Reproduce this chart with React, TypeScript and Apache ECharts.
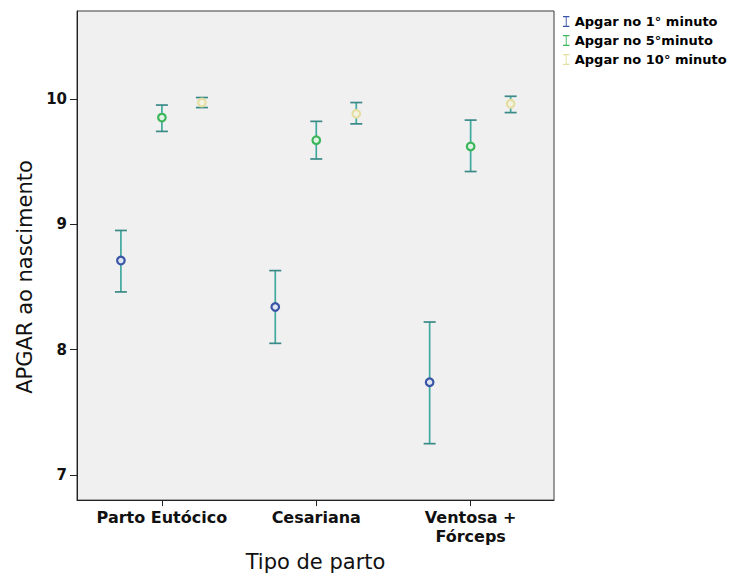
import React, { useEffect, useRef } from "react";
import * as echarts from "echarts";

// Delivery types (x categories)
const categories = ["Parto Eutócico", "Cesariana", "Ventosa +\nFórceps"];

// APGAR at 1 minute: mean and 95% CI bounds
const mean1 = [8.71, 8.34, 7.74];
const low1 = [8.46, 8.05, 7.25];
const high1 = [8.95, 8.63, 8.22];

// APGAR at 5 minutes
const mean5 = [9.85, 9.67, 9.62];
const low5 = [9.74, 9.52, 9.42];
const high5 = [9.95, 9.82, 9.83];

// APGAR at 10 minutes
const mean10 = [9.97, 9.88, 9.96];
const low10 = [9.93, 9.8, 9.89];
const high10 = [10.01, 9.97, 10.02];

const yTicks = [7, 8, 9, 10];
const seriesNames = ["Apgar no 1° minuto", "Apgar no 5°minuto", "Apgar no 10° minuto"];

const FONT = "DejaVu Sans";
const BAR_COLOR = "#40a89e";
const CAP_COLOR = "#3a8a87";
const ICON_PATH = "path://M0,0H7V1.4H4V10.6H7V12H0V10.6H3V1.4H0Z";

function buildSeries(
  name: string,
  color: string,
  fill: string,
  mean: number[],
  low: number[],
  high: number[],
  offsetPx: number
) {
  const data = categories.map((_, i) => [i + 1, mean[i], low[i], high[i]]);
  return {
    type: "custom",
    name,
    itemStyle: { color },
    encode: { x: 0, y: [1, 2, 3] },
    data,
    renderItem: (_params: any, api: any) => {
      const xv = api.value(0);
      const pm = api.coord([xv, api.value(1)]);
      const pl = api.coord([xv, api.value(2)]);
      const ph = api.coord([xv, api.value(3)]);
      const cx = pm[0] + offsetPx;
      const half = 6;
      return {
        type: "group",
        children: [
          {
            type: "line",
            shape: { x1: cx, y1: ph[1], x2: cx, y2: pl[1] },
            style: { stroke: BAR_COLOR, lineWidth: 1.7 },
          },
          {
            type: "line",
            shape: { x1: cx - half, y1: ph[1], x2: cx + half, y2: ph[1] },
            style: { stroke: CAP_COLOR, lineWidth: 1.7 },
          },
          {
            type: "line",
            shape: { x1: cx - half, y1: pl[1], x2: cx + half, y2: pl[1] },
            style: { stroke: CAP_COLOR, lineWidth: 1.7 },
          },
          {
            type: "circle",
            shape: { cx, cy: pm[1], r: 3.8 },
            style: { fill, stroke: color, lineWidth: 2.2 },
          },
        ],
      };
    },
  };
}

export default function App() {
  const ref = useRef<HTMLDivElement>(null);

  useEffect(() => {
    if (!ref.current) return;
    const chart = echarts.init(ref.current, null, { renderer: "svg" });
    chart.setOption({
      animation: false,
      backgroundColor: "#ffffff",
      grid: {
        left: 77,
        top: 11,
        right: 176,
        bottom: 75,
        show: true,
        backgroundColor: "#f0f0f0",
        borderColor: "#3a3a3a",
        borderWidth: 1,
      },
      legend: {
        orient: "vertical",
        left: 558,
        top: 10,
        itemWidth: 7,
        itemHeight: 11,
        itemGap: 6,
        icon: ICON_PATH,
        data: seriesNames,
        textStyle: { fontFamily: FONT, fontWeight: "bold", fontSize: 13, color: "#000" },
      },
      xAxis: {
        type: "value",
        min: 0.45,
        max: 3.54,
        splitLine: { show: false },
        axisLine: { show: true, lineStyle: { color: "#222" } },
        axisTick: { show: true, length: 6, customValues: [1, 2, 3], lineStyle: { color: "#222" } },
        axisLabel: {
          customValues: [1, 2, 3],
          formatter: (v: number) => categories[Math.round(v) - 1] ?? "",
          fontFamily: FONT,
          fontWeight: "bold",
          fontSize: 16,
          color: "#111",
          margin: 8,
          lineHeight: 19,
        },
        name: "Tipo de parto",
        nameLocation: "middle",
        nameGap: 47,
        nameTextStyle: { fontFamily: FONT, fontSize: 21, color: "#111" },
      },
      yAxis: {
        type: "value",
        min: 6.8,
        max: 10.7,
        splitLine: { show: false },
        axisLine: { show: true, lineStyle: { color: "#222" } },
        axisTick: { show: true, length: 7, customValues: yTicks, lineStyle: { color: "#222" } },
        axisLabel: {
          customValues: yTicks,
          fontFamily: FONT,
          fontWeight: "bold",
          fontSize: 15,
          color: "#111",
          margin: 10,
        },
      },
      graphic: [
        {
          type: "text",
          x: 25,
          y: 277,
          rotation: Math.PI / 2,
          style: {
            text: "APGAR ao nascimento",
            fontFamily: FONT,
            fontSize: 21,
            fill: "#111",
            align: "center",
            verticalAlign: "middle",
          },
        },
      ],
      series: [
        buildSeries(seriesNames[0], "#3a55a6", "#dfe6f2", mean1, low1, high1, -41),
        buildSeries(seriesNames[1], "#3cb65a", "#e0f2e4", mean5, low5, high5, 0),
        buildSeries(seriesNames[2], "#e4dea2", "#f4f2e2", mean10, low10, high10, 40),
      ],
    });
    return () => chart.dispose();
  }, []);

  return (
    <div
      ref={ref}
      style={{ position: "fixed", left: 0, top: 0, width: 730, height: 577 }}
    />
  );
}
